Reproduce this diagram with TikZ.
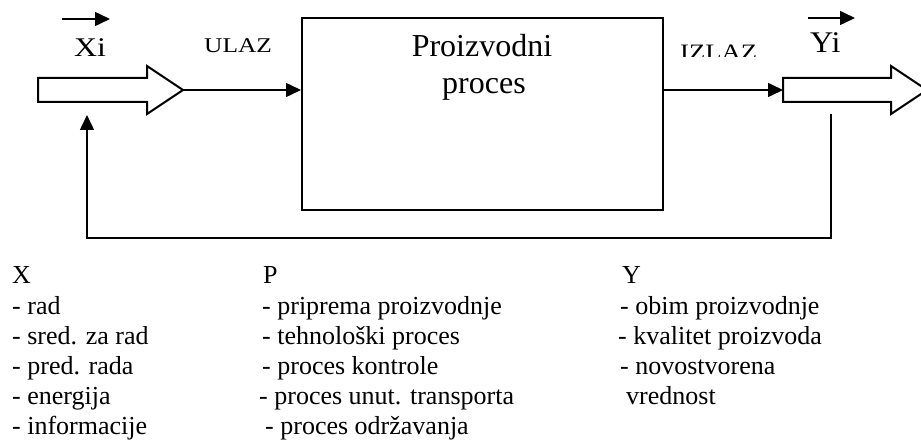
\documentclass[tikz,border=0pt]{standalone}
\usepackage{fontspec}
\setmainfont{Liberation Serif}
\usetikzlibrary{arrows.meta}
\begin{document}
\begin{tikzpicture}[x=1pt,y=-1pt,
  conn/.style={line width=1.5pt,-{Triangle[length=15pt,width=14pt]}},
  blk/.style={line width=2pt,line join=miter,draw=black,fill=white},
  lbl/.style={inner sep=0pt,anchor=base west,font=\fontsize{26}{30}\selectfont},
  ttl/.style={inner sep=0pt,anchor=base,font=\fontsize{32}{37}\selectfont},
]
\useasboundingbox (0,0) rectangle (921,441);
% process box
\node[draw,line width=2pt,minimum width=361pt,minimum height=192pt,inner sep=0pt] (box) at (482.5,114) {};
\node[ttl] (t1) at (482,57) {Proizvodni};
\node[ttl] (t2) at (484,94) {proces};
% left block arrow
\draw[blk] (38,78) -- (147,78) -- (147,66) -- (183,90) -- (147,114) -- (147,102) -- (38,102) -- cycle;
\coordinate (xtip) at (183,90);
\coordinate (xfb) at (87,115);
% right block arrow
\begin{scope}
\clip (700,0) rectangle (921,200);
\draw[blk] (783,78) -- (891,78) -- (891,66) -- (927,90) -- (891,114) -- (891,102) -- (783,102) -- cycle;
\end{scope}
\coordinate (ybody) at (783,90);
\coordinate (yfb) at (831,114);
\coordinate (fbr) at (831,238);
% connectors
\draw[conn] (xtip) -- (box.west |- xtip);
\draw[conn] (box.east |- ybody) -- (ybody);
\draw[conn] (yfb) -- (fbr) -| (xfb);
% vector arrows
\coordinate (xv1) at (62,19);
\coordinate (xv2) at (110,19);
\coordinate (yv1) at (808,18);
\coordinate (yv2) at (855,18);
\draw[conn] (xv1) -- (xv2);
\draw[conn] (yv1) -- (yv2);
% labels
\node[inner sep=0pt,anchor=base west,font=\fontsize{27}{31}\selectfont] (xi) at (74,57) {\scalebox{1.18}[1]{Xi}};
\node[inner sep=0pt,anchor=base west,font=\fontsize{30}{34}\selectfont] (yi) at (810,53) {\scalebox{1.07}[1]{Yi}};
\node[inner sep=0pt,anchor=base west,font=\fontsize{21}{25}\selectfont] (ulaz) at (204,53) {\scalebox{1.21}[1]{ULAZ}};
\begin{scope}
\clip (670,30) rectangle (775,57);
\node[inner sep=0pt,anchor=base west,font=\fontsize{22}{26}\selectfont] (izlaz) at (680,60) {\scalebox{1.21}[1]{IZLAZ}};
\end{scope}
% X column
\node[lbl] (x0) at (12,283) {X};
\node[lbl] (x1) at (12,314) {- rad};
\node[lbl] (x2) at (12,344) {- sred. za rad};
\node[lbl] (x3) at (12,374) {- pred. rada};
\node[lbl] (x4) at (12,404) {- energija};
\node[lbl] (x5) at (12,434) {- informacije};
% P column
\node[lbl] (p0) at (263,283) {P};
\node[lbl] (p1) at (262,314) {- priprema proizvodnje};
\node[lbl] (p2) at (262,344) {- tehnološki proces};
\node[lbl] (p3) at (262,374) {- proces kontrole};
\node[lbl] (p4) at (259,404) {- proces unut. transporta};
\node[lbl] (p5) at (265,434) {- proces održavanja};
% Y column
\node[lbl] (y0) at (622,283) {Y};
\node[lbl] (y1) at (620,314) {- obim proizvodnje};
\node[lbl] (y2) at (618,344) {- kvalitet proizvoda};
\node[lbl] (y3) at (620,374) {- novostvorena};
\node[lbl] (y4) at (626,404) {vrednost};
\end{tikzpicture}
\end{document}
